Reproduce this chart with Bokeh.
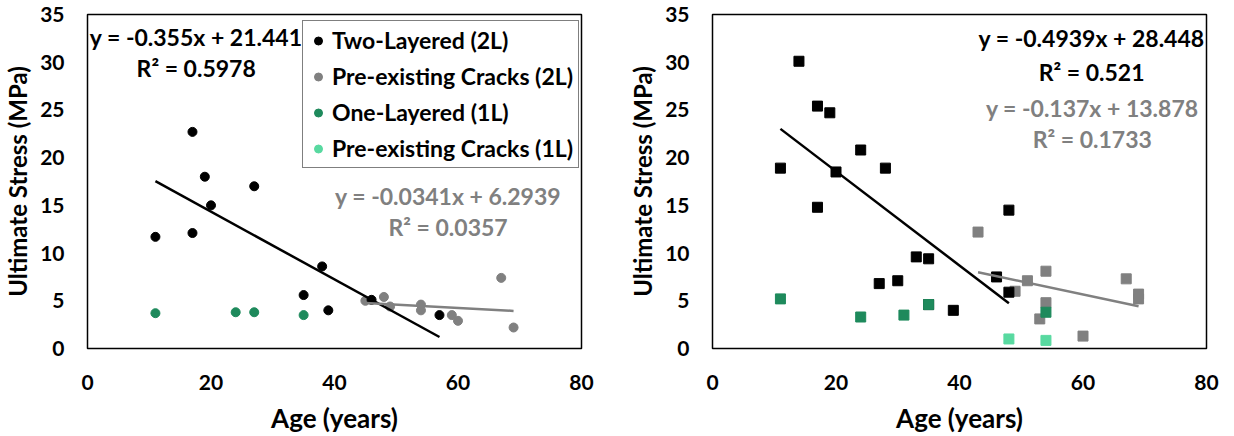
from bokeh.plotting import figure
from bokeh.models import Range1d, FixedTicker, Legend, LegendItem, Label, ColumnDataSource
from bokeh.layouts import row
from bokeh.embed import file_html
from bokeh.resources import INLINE

# ---------------- data ----------------
# Left panel (circles)
L_2L_age = [11, 17, 17, 19, 20, 27, 35, 38, 39, 46, 57]
L_2L_stress = [11.7, 22.7, 12.1, 18.0, 15.0, 17.0, 5.6, 8.6, 4.0, 5.1, 3.5]
L_2Lc_age = [45, 48, 49, 54, 54, 59, 60, 67, 69]
L_2Lc_stress = [5.0, 5.4, 4.4, 4.6, 4.0, 3.5, 2.9, 7.4, 2.2]
L_1L_age = [11, 24, 27, 35]
L_1L_stress = [3.7, 3.8, 3.8, 3.5]
L_1Lc_age = []     # no pre-existing-crack 1L specimens in this panel
L_1Lc_stress = []

# Right panel (squares)
R_2L_age = [14, 17, 19, 24, 11, 20, 28, 17, 48, 33, 35, 27, 30, 46, 48, 39, 35]
R_2L_stress = [30.1, 25.4, 24.7, 20.8, 18.9, 18.5, 18.9, 14.8, 14.5, 9.6, 9.4, 6.8, 7.1, 7.5, 5.9, 4.0, 4.6]
R_2Lc_age = [43, 51, 54, 49, 54, 53, 60, 67, 69, 69]
R_2Lc_stress = [12.2, 7.1, 8.1, 6.0, 4.8, 3.1, 1.3, 7.3, 5.7, 5.2]
R_1L_age = [11, 24, 31, 35, 54]
R_1L_stress = [5.2, 3.3, 3.5, 4.6, 3.8]
R_1Lc_age = [48, 54]
R_1Lc_stress = [1.0, 0.85]

# Trendlines (slope, intercept) as printed on the chart
L_fit_2L = (-0.355, 21.441)
L_fit_2Lc = (-0.0341, 6.2939)
R_fit_2L = (-0.4939, 28.448)
R_fit_2Lc = (-0.137, 13.878)

L_eq_2L = ["y = -0.355x + 21.441", "R² = 0.5978"]
L_eq_2Lc = ["y = -0.0341x + 6.2939", "R² = 0.0357"]
R_eq_2L = ["y = -0.4939x + 28.448", "R² = 0.521"]
R_eq_2Lc = ["y = -0.137x + 13.878", "R² = 0.1733"]

x_ticks = [0, 20, 40, 60, 80]
y_ticks = [0, 5, 10, 15, 20, 25, 30, 35]

legend_labels = ["Two-Layered (2L)", "Pre-existing Cracks (2L)",
                 "One-Layered (1L)", "Pre-existing Cracks (1L)"]

BLACK = "#000000"
GRAY = "#808080"
GREEN = "#1E8A5C"
LGREEN = "#58D9A0"
FONT = "Lato"


def make_fig(left_border, right_border):
    p = figure(frame_width=494, frame_height=334,
               min_border_left=left_border, min_border_right=right_border,
               min_border_top=14, min_border_bottom=88,
               x_range=Range1d(0, 80), y_range=Range1d(0, 35),
               toolbar_location=None, output_backend="svg",
               background_fill_color="white", border_fill_color="white")
    p.grid.visible = False
    p.outline_line_color = "black"
    p.outline_line_width = 1.5
    p.outline_line_alpha = 1.0
    for ax in (p.xaxis, p.yaxis):
        ax.axis_line_color = None
        ax.major_tick_line_color = None
        ax.minor_tick_line_color = None
        ax.major_tick_out = 0
        ax.major_tick_in = 0
        ax.major_label_text_font = FONT
        ax.major_label_text_font_style = "bold"
        ax.major_label_text_font_size = "21px"
        ax.major_label_text_color = "black"
        ax.axis_label_text_font = FONT
        ax.axis_label_text_font_style = "bold"
        ax.axis_label_text_color = "black"
    p.xaxis.axis_label_text_font_size = "26px"
    p.yaxis.axis_label_text_font_size = "24px"
    p.xaxis.ticker = FixedTicker(ticks=x_ticks)
    p.yaxis.ticker = FixedTicker(ticks=y_ticks)
    p.xaxis.axis_label = "Age (years)"
    p.yaxis.axis_label = "Ultimate Stress (MPa)"
    p.xaxis.major_label_standoff = 26
    p.xaxis.axis_label_standoff = 9
    p.yaxis.major_label_standoff = 23
    p.yaxis.axis_label_standoff = 5
    return p


def trend(p, xs, fit, color):
    if not xs:
        return
    x0, x1 = min(xs), max(xs)
    m, b = fit
    src = ColumnDataSource(dict(x=[x0, x1], y=[m * x0 + b, m * x1 + b]))
    p.line("x", "y", source=src, line_color=color, line_width=2.5)


def eq_labels(p, lines, xc, ys, color):
    for t, yy in zip(lines, ys):
        p.add_layout(Label(x=xc, y=yy, text=t, text_align="center",
                           text_baseline="middle", text_font=FONT,
                           text_font_style="bold", text_font_size="23px",
                           text_color=color))


def pts(xs, ys):
    # an empty series still needs one (invisible, NaN) row so its legend swatch is drawn
    if not xs:
        return ColumnDataSource(dict(x=[float("nan")], y=[float("nan")]))
    return ColumnDataSource(dict(x=xs, y=ys))


# ---------------- left panel ----------------
p1 = make_fig(87, 36)
r_g = p1.scatter("x", "y", source=pts(L_2Lc_age, L_2Lc_stress), marker="circle", size=9, color=GRAY)
r_b = p1.scatter("x", "y", source=pts(L_2L_age, L_2L_stress), marker="circle", size=9, color=BLACK)
r_gr = p1.scatter("x", "y", source=pts(L_1L_age, L_1L_stress), marker="circle", size=9, color=GREEN)
r_lg = p1.scatter("x", "y", source=pts(L_1Lc_age, L_1Lc_stress), marker="circle", size=9, color=LGREEN)
trend(p1, L_2L_age, L_fit_2L, BLACK)
trend(p1, L_2Lc_age, L_fit_2Lc, GRAY)
eq_labels(p1, L_eq_2L, 17.6, [32.6, 29.35], BLACK)
eq_labels(p1, L_eq_2Lc, 58.4, [16.0, 12.7], GRAY)

legend = Legend(items=[LegendItem(label=legend_labels[0], renderers=[r_b]),
                       LegendItem(label=legend_labels[1], renderers=[r_g]),
                       LegendItem(label=legend_labels[2], renderers=[r_gr]),
                       LegendItem(label=legend_labels[3], renderers=[r_lg])],
                location=(215, 180))
legend.label_text_font = FONT
legend.label_text_font_style = "bold"
legend.label_text_font_size = "23px"
legend.label_text_color = "black"
legend.glyph_width = 20
legend.glyph_height = 25
legend.label_height = 25
legend.spacing = 8
legend.padding = 5
legend.margin = 0
legend.label_standoff = 4
legend.border_line_color = "black"
legend.border_line_width = 1.2
legend.background_fill_alpha = 1.0
p1.add_layout(legend, "center")

# ---------------- right panel ----------------
p2 = make_fig(95, 28)
p2.scatter(R_2Lc_age, R_2Lc_stress, marker="square", size=10, color=GRAY)
p2.scatter(R_2L_age, R_2L_stress, marker="square", size=10, color=BLACK)
p2.scatter(R_1L_age, R_1L_stress, marker="square", size=10, color=GREEN)
p2.scatter(R_1Lc_age, R_1Lc_stress, marker="square", size=10, color=LGREEN)
trend(p2, R_2L_age, R_fit_2L, BLACK)
trend(p2, R_2Lc_age, R_fit_2Lc, GRAY)
eq_labels(p2, R_eq_2L, 61.4, [32.5, 28.95], BLACK)
eq_labels(p2, R_eq_2Lc, 61.5, [25.15, 22.0], GRAY)

layout = row(p1, p2)
open("out.html", "w").write(file_html(layout, INLINE))
